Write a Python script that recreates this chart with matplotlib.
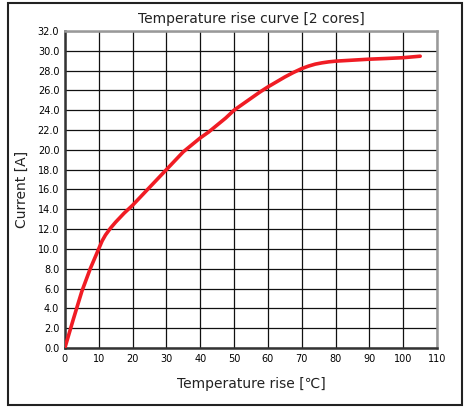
import matplotlib.pyplot as plt
from matplotlib.patches import Rectangle

# values
temp_rise = [0, 2.5, 5, 7.5, 9, 10, 11, 12, 13.5, 15, 17.5, 20, 22.5, 25, 27.5, 30, 32.5, 35, 37.5,
             40, 42.5, 45, 47.5, 50, 52.5, 55, 57.5, 60, 62.5, 65, 67.5, 70, 72, 74, 76, 78, 80,
             85, 90, 95, 100, 105]
current = [0, 2.9, 5.7, 8.0, 9.2, 10.0, 10.8, 11.4, 12.1, 12.7, 13.6, 14.4, 15.3, 16.2, 17.1, 18.0,
           18.9, 19.8, 20.5, 21.2, 21.8, 22.5, 23.2, 24.0, 24.6, 25.2, 25.8, 26.35, 26.85, 27.35,
           27.8, 28.2, 28.45, 28.65, 28.78, 28.88, 28.95, 29.05, 29.15, 29.22, 29.3, 29.45]

x_ticks = list(range(0, 111, 10))
y_ticks = [i * 2.0 for i in range(17)]

fig = plt.figure(figsize=(4.7, 4.07), dpi=100)
ax = fig.add_axes([0.138, 0.145, 0.792, 0.779])

# outer frame of the picture
fig.patches.append(Rectangle((0.017, 0.005), 0.966, 0.988, transform=fig.transFigure,
                             fill=False, edgecolor='#222222', linewidth=1.5))

ax.plot(temp_rise, current, color='#f01c24', linewidth=2.6, solid_joinstyle='round',
        solid_capstyle='round', zorder=3)

ax.set_xlim(0, 110)
ax.set_ylim(0, 32)
ax.set_xticks(x_ticks)
ax.set_yticks(y_ticks)
ax.set_xticklabels([str(t) for t in x_ticks], fontsize=7)
ax.set_yticklabels(['%.1f' % t for t in y_ticks], fontsize=7)
ax.tick_params(length=0, pad=4)
ax.grid(True, color='#111111', linewidth=0.9)

for side in ['top', 'right']:
    ax.spines[side].set_color('#999999')
    ax.spines[side].set_linewidth(1.8)
for side in ['left', 'bottom']:
    ax.spines[side].set_color('#333333')
    ax.spines[side].set_linewidth(1.8)

ax.set_title('Temperature rise curve [2 cores]', fontsize=10, color='#222222', pad=6)
ax.set_xlabel('Temperature rise [\u2103]', fontsize=10, color='#222222', labelpad=10)
ax.set_ylabel('Current [A]', fontsize=10, color='#222222', labelpad=6)

plt.savefig('out.png', dpi=100)
